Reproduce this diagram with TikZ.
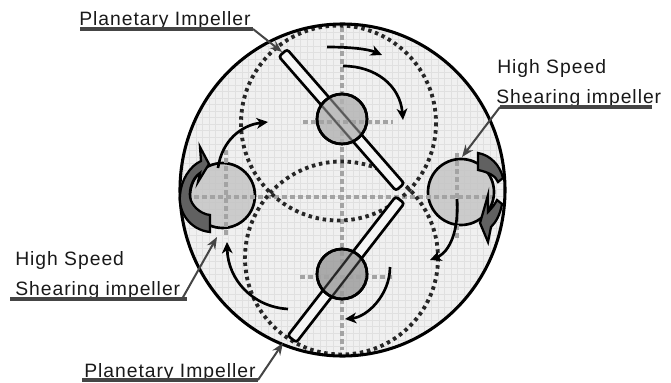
\documentclass[tikz,border=0pt]{standalone}
\usepackage{fontspec}
\setmainfont{Liberation Sans}
\newfontfamily\lblfont[LetterSpace=5]{Liberation Sans}
\usetikzlibrary{arrows.meta}
\definecolor{leader}{HTML}{454545}
\tikzset{
  label text/.style={anchor=base west,inner sep=0pt,font=\lblfont\fontsize{14.5pt}{16pt}\selectfont,text=black!90},
  underline/.style={draw=leader,line width=2.4pt},
  leaderline/.style={draw=leader,line width=1.5pt,-{Stealth[length=9pt,width=7pt]}},
  flow/.style={draw=black,line width=2pt,-{Stealth[length=8.5pt,width=8pt,inset=2.5pt]}},
  axis/.style={draw=black!36,line width=3pt,dash pattern=on 3.8pt off 2.2pt},
  orbit/.style={draw=black!85,line width=2.9pt,dash pattern=on 2.6pt off 2.8pt},
  hub/.style={circle,draw=black,line width=2pt,inner sep=0pt,fill opacity=.8},
  blade/.style={rectangle,draw=black,line width=2pt,fill=white!96!black,rounded corners=2pt,inner sep=0pt,minimum height=8.2pt},
  swirl/.style={draw=black,line width=1.7pt,fill=black!62,line join=miter}
}
\begin{document}
\begin{tikzpicture}[x=0.75pt,y=-0.75pt]
\useasboundingbox (0,0) rectangle (671,382);
% vessel
\fill[black!6] (342.5,190) ellipse [x radius=162.5,y radius=166];
\begin{scope}
\clip (342.5,190) ellipse [x radius=162.5,y radius=166];
\draw[black!12,line width=.35pt,step=4.9pt] (170,20) grid (515,360);
\end{scope}
% side hubs
\node[hub,fill=black!24,minimum size=48.7pt] (hl) at (222.5,195.5) {};
\node[hub,fill=black!24,minimum size=49.5pt] (hr) at (461,192) {};
% axes
\coordinate (ha) at (186,197); \coordinate (hb) at (492,197);
\coordinate (va) at (342,27); \coordinate (vb) at (342,350);
\coordinate (la) at (226,150); \coordinate (lb) at (226,238);
\coordinate (ra) at (457,153); \coordinate (rb) at (457,240);
\coordinate (ua) at (303,122); \coordinate (ub) at (393,122);
\coordinate (da) at (300,277); \coordinate (db) at (392,277);
\draw[axis] (ha)--(hb); \draw[axis] (va)--(vb);
\draw[axis] (la)--(lb); \draw[axis] (ra)--(rb);
% orbits
\draw[orbit] (338.5,123) circle [radius=97.5];
\draw[orbit] (341.5,258) circle [radius=96.5];
% blades
\node[blade,minimum width=133.5pt,rotate=-48.9] (bu) at (341.5,120) {};
\node[blade,minimum width=132pt,rotate=52.2] (bd) at (346,269.5) {};
% planetary hubs
\node[hub,fill=black!30,minimum size=37.5pt] (pu) at (342,119) {};
\node[hub,fill=black!40,minimum size=37.5pt] (pd) at (342,274) {};
\draw[axis] (ua)--(ub); \draw[axis] (da)--(db);
\begin{scope}
\clip (342,119) circle [radius=25];
\node[blade,draw=black!65,line width=1.3pt,fill=none,minimum width=133.5pt,rotate=-48.9] at (341.5,120) {};
\end{scope}
\begin{scope}
\clip (342,274) circle [radius=25];
\node[blade,draw=black!85,line width=1.5pt,fill=none,minimum width=132pt,rotate=52.2] at (346,269.5) {};
\end{scope}
\draw[black,line width=2pt] (342,119) circle [radius=25];
\draw[black,line width=2pt] (342,274) circle [radius=25];
% vessel outline
\draw[black,line width=2.3pt] (342.5,190) ellipse [x radius=162.5,y radius=166];
% swirl arrows
\draw[swirl] (210,232) .. controls (190,230) and (178,212) .. (180,195) .. controls (181,180) and (190,166) .. (201,161) -- (200,147) -- (209,164) -- (198,182) -- (200,173) .. controls (192,178) and (189,190) .. (190,197) .. controls (191,205) and (200,214) .. (210,215) -- cycle;
\draw[swirl] (478,153) .. controls (490,155) and (500,165) .. (503,178) -- (498,182) .. controls (496,176) and (488,172) .. (478,170) -- cycle;
\draw[swirl] (502,204) .. controls (500,215) and (496,222) .. (491,227) -- (488,242) -- (480,223) -- (488,195) -- (488,212) .. controls (492,208) and (495,204) .. (497,200) -- cycle;
% flow arrows
\coordinate (f1a) at (327,47); \coordinate (f1b) at (382,55);
\coordinate (f2a) at (343,66); \coordinate (f2b) at (403,120);
\coordinate (f3a) at (218,168); \coordinate (f3b) at (268,122);
\coordinate (f4a) at (457,199); \coordinate (f4b) at (430,260);
\coordinate (f5a) at (390,267); \coordinate (f5b) at (345,319);
\coordinate (f6a) at (288,309); \coordinate (f6b) at (227,242);
\draw[flow] (f1a) .. controls (350,47) and (368,49) .. (f1b);
\draw[flow] (f2a) .. controls (375,66) and (400,85) .. (f2b);
\draw[flow] (f3a) .. controls (222,140) and (242,125) .. (f3b);
\draw[flow] (f4a) .. controls (459,230) and (450,252) .. (f4b);
\draw[flow] (f5a) .. controls (390,295) and (367,317) .. (f5b);
\draw[flow] (f6a) .. controls (253,307) and (228,280) .. (f6b);
% labels
\node[label text] (t1) at (79,25) {Planetary Impeller};
\node[label text] (t2) at (497,73) {High Speed};
\node[label text] (t3) at (496,103) {Shearing impeller};
\node[label text] (t4) at (15,265) {High Speed};
\node[label text] (t5) at (15,295) {Shearing impeller};
\node[label text] (t6) at (84,377) {Planetary Impeller};
% leaders
\coordinate (u1a) at (80,29); \coordinate (u1b) at (253,29); \coordinate (u1c) at (282,52);
\coordinate (u2a) at (652,107); \coordinate (u2b) at (500,107); \coordinate (u2c) at (462,157);
\coordinate (u3a) at (10,299); \coordinate (u3b) at (187,299); \coordinate (u3d) at (182,299); \coordinate (u3c) at (217,237);
\coordinate (u4a) at (82,380); \coordinate (u4b) at (258,380); \coordinate (u4c) at (283,343);
\draw[underline] (u1a)--(u1b); \draw[leaderline] (u1b)--(u1c);
\draw[underline] (u2a)--(u2b); \draw[leaderline] (u2b)--(u2c);
\draw[underline] (u3a)--(u3b); \draw[leaderline] (u3d)--(u3c);
\draw[underline] (u4a)--(u4b); \draw[leaderline] (u4b)--(u4c);
\end{tikzpicture}
\end{document}
